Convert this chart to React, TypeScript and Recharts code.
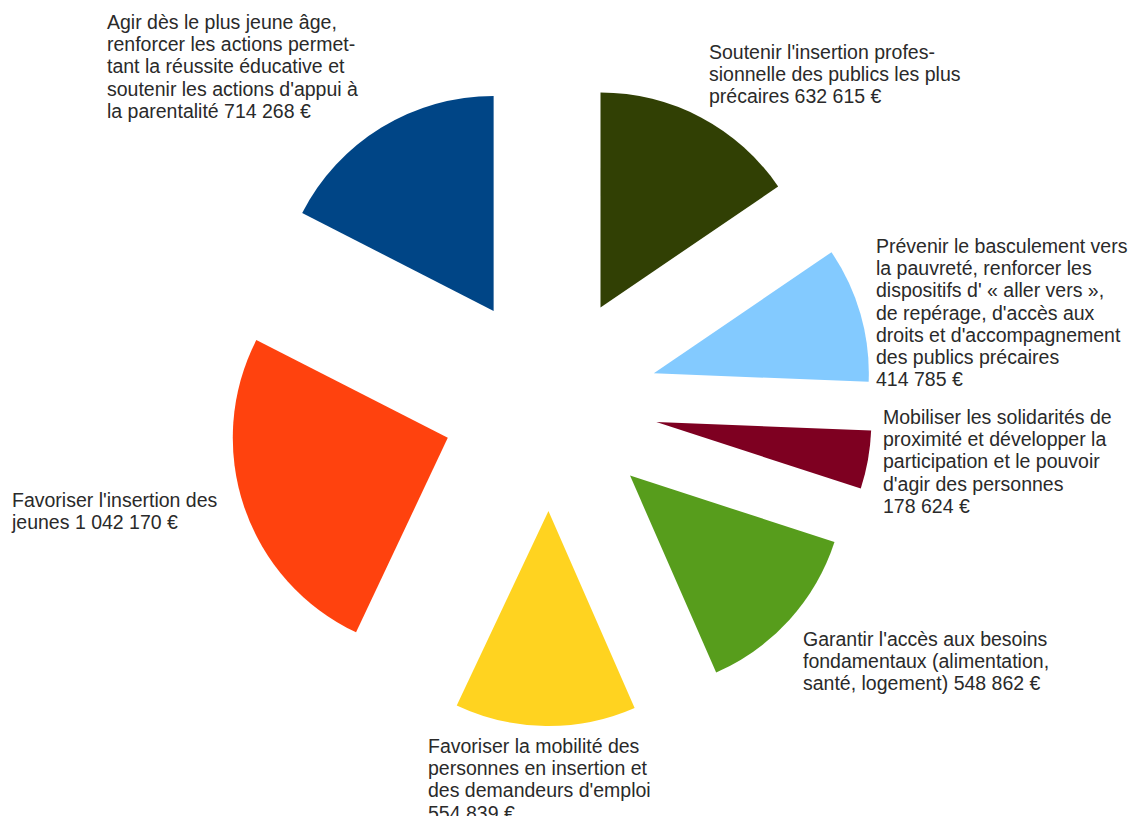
import React from 'react';
import { PieChart, Pie, Cell, Sector } from 'recharts';

// slices in clockwise order starting from 12 o'clock
const categories = [
  ["Soutenir l'insertion profes-", 'sionnelle des publics les plus', 'précaires 632 615 €'],
  [
    'Prévenir le basculement vers',
    'la pauvreté, renforcer les',
    "dispositifs d' « aller vers »,",
    "de repérage, d'accès aux",
    "droits et d'accompagnement",
    'des publics précaires',
    '414 785 €',
  ],
  [
    'Mobiliser les solidarités de',
    'proximité et développer la',
    'participation et le pouvoir',
    "d'agir des personnes",
    '178 624 €',
  ],
  ["Garantir l'accès aux besoins", 'fondamentaux (alimentation,', 'santé, logement) 548 862 €'],
  ['Favoriser la mobilité des', 'personnes en insertion et', "des demandeurs d'emploi", '554 839 €'],
  ["Favoriser l'insertion des", 'jeunes 1 042 170 €'],
  [
    'Agir dès le plus jeune âge,',
    'renforcer les actions permet-',
    'tant la réussite éducative et',
    "soutenir les actions d'appui à",
    'la parentalité 714 268 €',
  ],
];
const amounts = [632615, 414785, 178624, 548862, 554839, 1042170, 714268];
const colors = ['#314004', '#83caff', '#7e0021', '#579d1c', '#ffd320', '#ff420e', '#004586'];

// where each label block starts (left x, first baseline y)
const labelPos = [
  [709, 59],
  [876, 253],
  [883, 424],
  [803, 646],
  [428, 753],
  [12, 507],
  [107, 29],
];

const data = amounts.map((value, i) => ({ name: categories[i].join(' '), value }));

const EXPLODE = 108;
const RAD = Math.PI / 180;

const ExplodedSector = (props: any) => {
  const { cx, cy, midAngle } = props;
  const dx = EXPLODE * Math.cos(-midAngle * RAD);
  const dy = EXPLODE * Math.sin(-midAngle * RAD);
  return <Sector {...props} cx={cx + dx} cy={cy + dy} stroke="none" />;
};

const renderLabel = ({ index }: any) => {
  const [x, y] = labelPos[index];
  return (
    <text x={x} y={y} fill="#2a2a2a" fontSize={19.5} fontFamily="'Liberation Sans', Arial, sans-serif">
      {categories[index].map((line, j) => (
        <tspan key={j} x={x} y={y + j * 22.2}>
          {line}
        </tspan>
      ))}
    </text>
  );
};

export default function App() {
  return (
    <div style={{ position: 'absolute', left: 0, top: 0, width: 1139, height: 816, background: '#fff', overflow: 'hidden' }}>
      <PieChart width={1139} height={816}>
        <Pie
          data={data}
          dataKey="value"
          nameKey="name"
          cx={545}
          cy={398}
          innerRadius={0}
          outerRadius={215}
          startAngle={90}
          endAngle={-270}
          stroke="none"
          shape={ExplodedSector}
          label={renderLabel}
          labelLine={false}
          isAnimationActive={false}
        >
          {data.map((_, i) => (
            <Cell key={`cell-${i}`} fill={colors[i]} />
          ))}
        </Pie>
      </PieChart>
    </div>
  );
}
